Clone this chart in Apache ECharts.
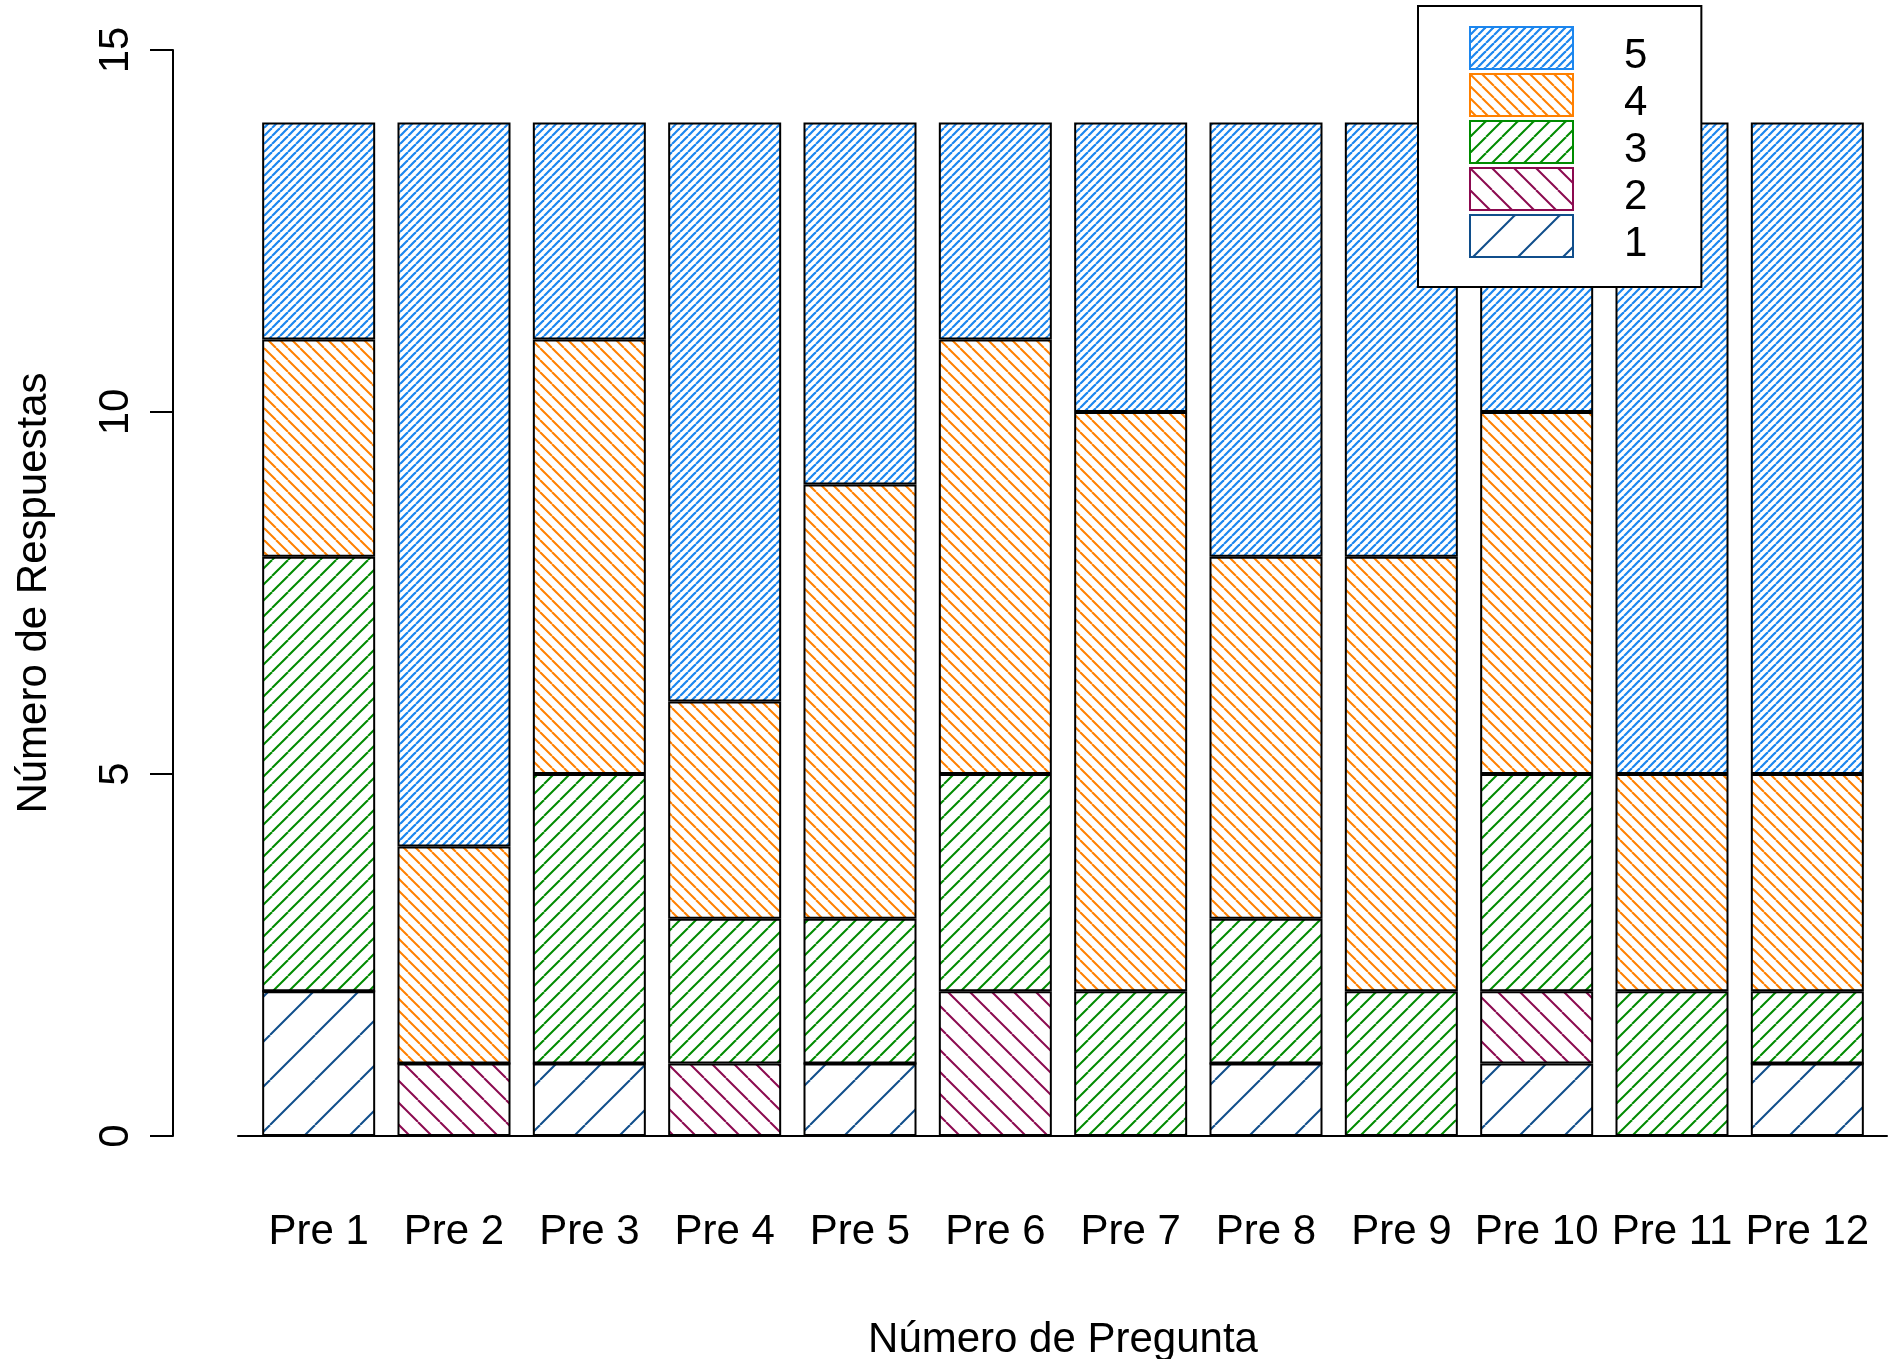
<!DOCTYPE html>
<html>
<head>
<meta charset="utf-8">
<script src="https://cdn.jsdelivr.net/npm/echarts@6/dist/echarts.min.js"></script>
<style>
html,body{margin:0;padding:0;background:#fff;}
#chart{width:1891px;height:1359px;}
</style>
</head>
<body>
<div id="chart"></div>
<script>
const categories = ['Pre 1','Pre 2','Pre 3','Pre 4','Pre 5','Pre 6','Pre 7','Pre 8','Pre 9','Pre 10','Pre 11','Pre 12'];
const resp1 = [2,0,1,0,1,0,0,1,0,1,0,1];
const resp2 = [0,1,0,1,0,2,0,0,0,1,0,0];
const resp3 = [6,0,4,2,2,3,2,2,2,3,2,1];
const resp4 = [3,3,6,3,6,6,8,5,6,5,3,3];
const resp5 = [3,10,3,8,5,3,4,6,6,4,9,9];
const seriesNames = ['1','2','3','4','5'];
const yTicks = [0,5,10,15];

const FONT = 'Liberation Sans, Arial, Helvetica, sans-serif';

function hatch(color, period, dir, lw) {
  const c = document.createElement('canvas');
  c.width = period; c.height = period;
  const ctx = c.getContext('2d');
  ctx.fillStyle = '#fff';
  ctx.fillRect(0, 0, period, period);
  ctx.strokeStyle = color;
  ctx.lineWidth = lw;
  for (let k = -1; k <= 1; k++) {
    ctx.beginPath();
    if (dir > 0) { ctx.moveTo(k * period, period); ctx.lineTo(k * period + period, 0); }
    else { ctx.moveTo(k * period, 0); ctx.lineTo(k * period + period, period); }
    ctx.stroke();
  }
  return { image: c, repeat: 'repeat' };
}

const styles = {
  '1': { color: '#104E8B', period: 45, dir: 1, lw: 2 },
  '2': { color: '#8B0A50', period: 22, dir: -1, lw: 2 },
  '3': { color: '#008B00', period: 16, dir: 1, lw: 2 },
  '4': { color: '#FF8000', period: 12, dir: -1, lw: 2 },
  '5': { color: '#1C86EE', period: 8, dir: 1, lw: 2.2 }
};
const dataBySeries = { '1': resp1, '2': resp2, '3': resp3, '4': resp4, '5': resp5 };

const series = seriesNames.map(n => ({
  name: n,
  type: 'bar',
  stack: 'total',
  xAxisIndex: 0,
  yAxisIndex: 0,
  barCategoryGap: '16.5%',
  data: dataBySeries[n],
  itemStyle: {
    color: hatch(styles[n].color, styles[n].period, styles[n].dir, styles[n].lw),
    borderColor: '#000',
    borderWidth: 2
  },
  emphasis: { disabled: true },
  animation: false
}));

const chart = echarts.init(document.getElementById('chart'), null, { renderer: 'canvas' });
chart.setOption({
  backgroundColor: '#fff',
  animation: false,
  textStyle: { fontFamily: FONT },
  grid: [
    { left: 251, right: 16, top: 50, bottom: 223, containLabel: false, outerBoundsMode: 'none' },
    { left: 238, right: 4, top: 50, bottom: 223, containLabel: false, outerBoundsMode: 'none' }
  ],
  legend: {
    orient: 'vertical',
    left: 1418,
    top: 6,
    padding: [12.5, 54, 21.5, 51],
    itemWidth: 103,
    itemHeight: 42,
    itemGap: -12,
    backgroundColor: '#fff',
    borderColor: '#000',
    borderWidth: 2,
    borderRadius: 0,
    selectedMode: false,
    icon: 'rect',
    formatter: name => '{a|' + name + '}',
    textStyle: {
      fontSize: 42, color: '#000', fontFamily: FONT, padding: [0, 0, 0, 46],
      rich: { a: { fontSize: 42, color: '#000', fontFamily: FONT, lineHeight: 30, padding: [17, 0, 0, 0] } }
    },
    data: ['5','4','3','2','1'].map(n => ({
      name: n,
      itemStyle: { borderColor: styles[n].color, borderWidth: 2 }
    }))
  },
  xAxis: [
    {
      type: 'category',
      gridIndex: 0,
      data: categories,
      axisLine: { show: false },
      axisTick: { show: false },
      axisLabel: { fontSize: 42, color: '#000', margin: 75, fontFamily: FONT, interval: 0 },
      name: 'Número de Pregunta',
      nameLocation: 'middle',
      nameGap: 183,
      nameTextStyle: { fontSize: 42, color: '#000', fontFamily: FONT }
    },
    {
      type: 'value',
      gridIndex: 1,
      min: 0,
      max: 1,
      axisLine: { show: true, lineStyle: { color: '#000', width: 2 } },
      axisTick: { show: false },
      axisLabel: { show: false },
      splitLine: { show: false }
    }
  ],
  yAxis: [
    {
      type: 'value',
      gridIndex: 0,
      min: yTicks[0],
      max: yTicks[yTicks.length - 1],
      interval: 5,
      offset: 78,
      axisLine: { show: true, lineStyle: { color: '#000', width: 2 } },
      axisTick: { show: true, length: 23, lineStyle: { color: '#000', width: 2 } },
      axisLabel: { rotate: 90, fontSize: 42, color: '#000', margin: 36, fontFamily: FONT },
      splitLine: { show: false },
      name: 'Número de Respuestas',
      nameLocation: 'middle',
      nameGap: 118,
      nameTextStyle: { fontSize: 42, color: '#000', fontFamily: FONT }
    },
    {
      type: 'value',
      gridIndex: 1,
      min: 0,
      max: 1,
      show: false
    }
  ],
  series: series
});
</script>
</body>
</html>
